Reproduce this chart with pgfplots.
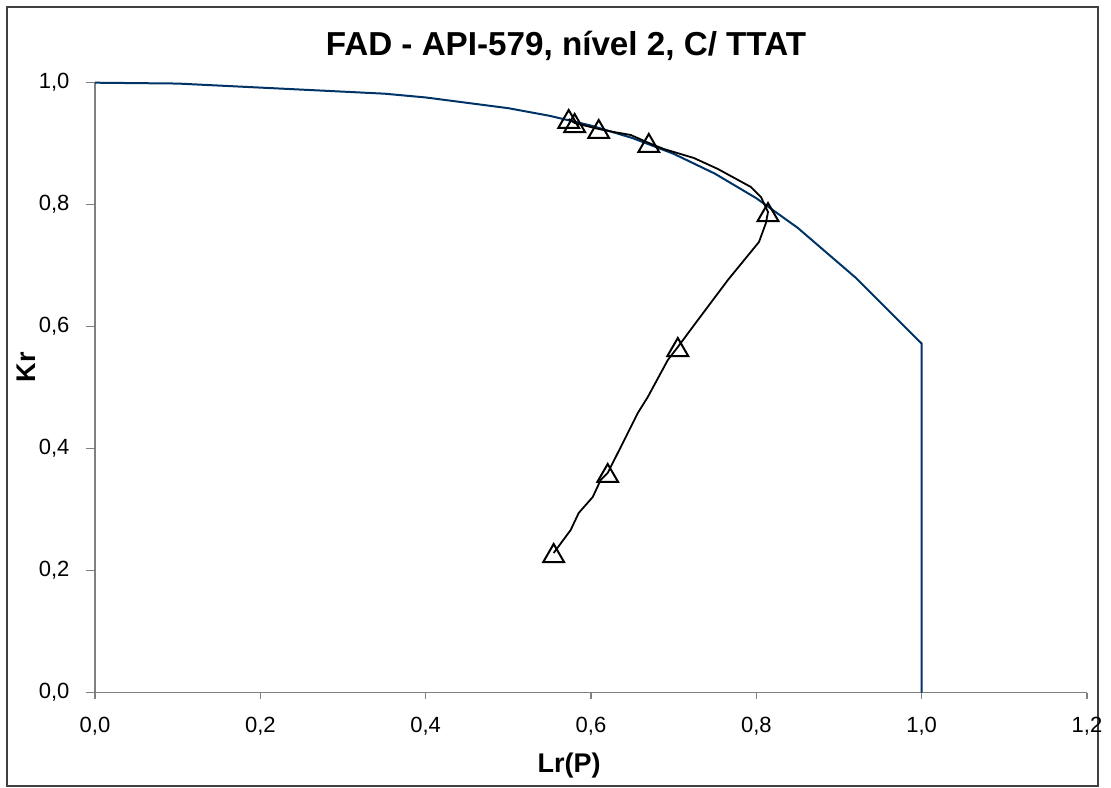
\documentclass[border=0pt]{standalone}
\usepackage{pgfplots}
\pgfplotsset{compat=1.18}
\usepackage{fontspec}
\setmainfont{Liberation Sans}
\definecolor{fadblue}{RGB}{0,51,102}
\definecolor{axgray}{RGB}{128,128,128}
\definecolor{framegray}{RGB}{64,64,64}
\begin{document}
\begin{tikzpicture}
\path (0pt,0pt) rectangle (555.5pt,393.5pt);
\draw[framegray, line width=1pt] (3.5pt,0.5pt) rectangle (549pt,390pt);
\begin{axis}[
  at={(47.5pt,47.15pt)}, anchor=south west,
  scale only axis, width=496pt, height=305pt,
  xmin=0, xmax=1.2, ymin=0, ymax=1.0,
  axis x line=bottom, axis y line=left,
  axis line style={-, axgray, line width=0.6pt},
  tick align=outside,
  xtick={0,0.2,0.4,0.6,0.8,1.0,1.2},
  ytick={0,0.2,0.4,0.6,0.8,1.0},
  xtick style={axgray, line width=0.6pt, /pgfplots/major tick length=3pt},
  ytick style={axgray, line width=0.6pt, /pgfplots/major tick length=4.5pt},
  minor tick num=0,
  tick label style={font=\fontsize{11}{13}\selectfont, text=black},
  xticklabel style={yshift=-4.5pt},
  yticklabel style={xshift=-5pt},
  /pgf/number format/.cd, use comma, fixed, fixed zerofill, precision=1, assume math mode=true,
  /pgfplots/.cd,
  clip=false,
]
\addplot[fadblue, line width=1pt] coordinates {
(0,1.0) (0.1,0.9986) (0.35,0.9820) (0.4,0.9758) (0.5,0.9582) (0.55,0.9457)
(0.6,0.9297) (0.65,0.9093) (0.7,0.8834) (0.75,0.8508) (0.8,0.8106)
(0.85,0.7621) (0.92,0.6805) (1.0,0.5723) (1.0,0.0)
};
\addplot[black, line width=0.9pt] coordinates {
(0.5548,0.2290) (0.5754,0.2667) (0.5851,0.2946) (0.6021,0.3208) (0.6117,0.3487)
(0.6202,0.3602) (0.6360,0.4028) (0.6566,0.4585) (0.6687,0.4848) (0.6929,0.5454)
(0.7050,0.5667) (0.7293,0.6110) (0.7656,0.6766) (0.8032,0.7389) (0.8116,0.7700)
(0.8141,0.7880) (0.8056,0.8126) (0.7935,0.8290) (0.7535,0.8585) (0.7244,0.8766)
(0.6881,0.8913) (0.6699,0.9012) (0.6481,0.9143) (0.6275,0.9192) (0.6093,0.9241)
(0.5802,0.9339) (0.5730,0.9405)
};
\addplot[only marks, mark=triangle, mark size=6pt,
  mark options={black, line width=1pt, fill=none, yshift=-1.5pt}] coordinates {
(0.5548,0.2290) (0.6202,0.3602) (0.7050,0.5667) (0.8141,0.7880)
(0.6699,0.9012) (0.6093,0.9241) (0.5802,0.9339) (0.5730,0.9405)
};
\end{axis}
\node[anchor=base, font=\fontsize{16.6}{19}\selectfont\bfseries] at (283pt,365.5pt) {FAD - API-579, nível 2, C/ TTAT};
\node[anchor=base, font=\fontsize{13.5}{16}\selectfont\bfseries] at (284.5pt,7.5pt) {Lr(P)};
\node[anchor=base, rotate=90, font=\fontsize{13.5}{16}\selectfont\bfseries] at (17.5pt,210pt) {Kr};
\end{tikzpicture}
\end{document}
